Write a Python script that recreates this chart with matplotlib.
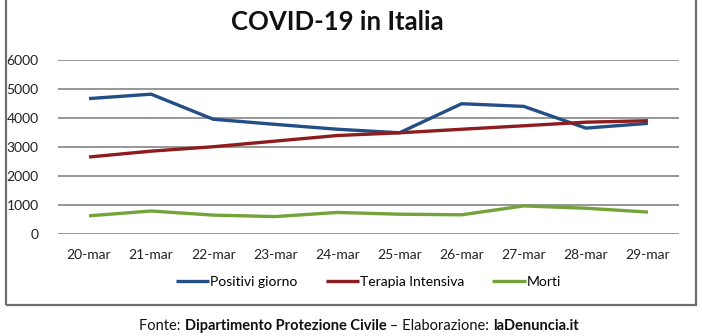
import matplotlib
matplotlib.use("Agg")
import matplotlib.pyplot as plt
from matplotlib.patches import Rectangle

plt.rcParams['font.family'] = ['Lato', 'DejaVu Sans']

giorni = ['20-mar', '21-mar', '22-mar', '23-mar', '24-mar',
          '25-mar', '26-mar', '27-mar', '28-mar', '29-mar']
positivi = [4670, 4821, 3957, 3780, 3612, 3491, 4492, 4401, 3651, 3815]
terapia = [2655, 2857, 3009, 3204, 3396, 3489, 3612, 3732, 3856, 3906]
morti = [627, 793, 651, 601, 743, 683, 662, 969, 889, 756]
yticks = [0, 1000, 2000, 3000, 4000, 5000, 6000]

W, H = 702, 336
fig = plt.figure(figsize=(W / 100, H / 100), dpi=100)
ax = fig.add_axes([58 / W, 1 - 234 / H, 621 / W, 174 / H])

x = list(range(len(giorni)))
ax.plot(x, positivi, color='#244e86', lw=2.4, label='Positivi giorno', solid_capstyle='butt')
ax.plot(x, terapia, color='#8e1c1e', lw=2.4, label='Terapia Intensiva', solid_capstyle='butt')
ax.plot(x, morti, color='#74a33a', lw=2.4, label='Morti', solid_capstyle='butt')

ax.set_xlim(-0.5, len(giorni) - 0.5)
ax.set_ylim(0, 6000)
ax.set_yticks(yticks)
ax.set_yticklabels([str(v) for v in yticks])
ax.set_xticks(x)
ax.set_xticklabels(giorni)
ax.tick_params(length=0, labelsize=10, colors='#222222')
ax.tick_params(axis='x', pad=11)
ax.tick_params(axis='y', pad=14)
for s in ax.spines.values():
    s.set_visible(False)
ax.grid(axis='y', color='#7a7a7a', lw=1.1)
ax.set_axisbelow(True)

ax.legend(loc='upper center', bbox_to_anchor=(0.5, -0.17), ncol=3, frameon=False,
          fontsize=10, handlelength=2.4, handletextpad=0.1, columnspacing=2.0)

fig.text(337 / W, 1 - 22 / H, 'COVID-19 in Italia', ha='center', va='center',
         fontsize=18.5, fontweight='bold', color='#111111')

# cornice del grafico
fig.patches.append(Rectangle((6 / W, 1 - 305 / H), 690 / W, 310 / H, transform=fig.transFigure,
                             fill=False, edgecolor='#6e6e6e', lw=1.6))

# didascalia con parti in grassetto
parti = [('Fonte: ', 'normal'), ('Dipartimento Protezione Civile', 'bold'),
         (' \u2013 Elaborazione: ', 'normal'), ('laDenuncia.it', 'bold')]
r = fig.canvas.get_renderer()
testi = []
tot = 0
for s, w in parti:
    t = fig.text(0, 1 - 326 / H, s, fontsize=10.5, fontweight=w, ha='left', va='center', color='#111111')
    wpx = t.get_window_extent(renderer=r).width
    testi.append((t, wpx))
    tot += wpx
x0 = 359 - tot / 2
for t, wpx in testi:
    t.set_x(x0 / W)
    x0 += wpx

fig.savefig('out.png', dpi=100)
